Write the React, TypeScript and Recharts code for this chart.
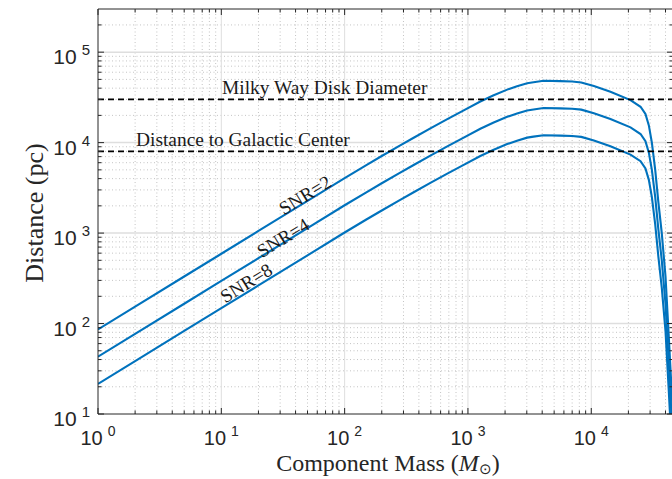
import React from 'react';
import { LineChart, Line, XAxis, YAxis, ReferenceLine, ReferenceDot } from 'recharts';

// component mass (solar masses) and horizon distance (pc)
const massValues = [1, 2, 5, 10, 20, 50, 100, 150, 200, 280, 360, 500, 680, 900, 1260, 1600, 2080, 2500, 3020, 3400, 4100, 5600, 7000, 8300, 10500, 14300, 20800, 25100, 27500, 29300, 31000, 33000, 35000, 37300, 40000, 42400, 45700];
const snr2Distance = [86, 154, 331, 591, 1055, 2270, 4060, 5650, 7110, 9270, 11250, 14450, 18200, 22300, 28450, 33200, 38550, 42000, 45400, 46550, 48300, 47800, 47400, 46300, 42200, 36500, 29500, 24900, 20700, 15500, 10000, 5000, 2200, 1000, 330, 77, 11];
const snr4Distance = [43, 77, 165.5, 295.5, 527.5, 1135, 2030, 2825, 3555, 4635, 5625, 7225, 9100, 11150, 14225, 16600, 19275, 21000, 22700, 23275, 24150, 23900, 23700, 23150, 21100, 18250, 14750, 12450, 10350, 7750, 5000, 2500, 1100, 500, 165, 38.5, 5.5];
const snr8Distance = [21.5, 38.5, 82.8, 147.8, 263.8, 567.5, 1015, 1412, 1778, 2318, 2812, 3612, 4550, 5575, 7112, 8300, 9638, 10500, 11350, 11638, 12075, 11950, 11850, 11575, 10550, 9125, 7375, 6225, 5175, 3875, 2500, 1250, 550, 250, 82.5, 19.3, 2.75];

const xMajorTicks = [1, 10, 100, 1000, 10000];
const xMinorTicks = [2, 3, 4, 5, 6, 7, 8, 9, 20, 30, 40, 50, 60, 70, 80, 90, 200, 300, 400, 500, 600, 700, 800, 900, 2000, 3000, 4000, 5000, 6000, 7000, 8000, 9000, 20000, 30000, 40000];
const yMajorTicks = [10, 100, 1000, 10000, 100000];
const yMinorTicks = [20, 30, 40, 50, 60, 70, 80, 90, 200, 300, 400, 500, 600, 700, 800, 900, 2000, 3000, 4000, 5000, 6000, 7000, 8000, 9000, 20000, 30000, 40000, 50000, 60000, 70000, 80000, 90000, 200000];

const xDomain = [1, 46000];
const yDomain = [10, 300000];

const milkyWayDiameter = 30000;
const galacticCenter = 8000;

const snrLabels = [
  { text: 'SNR=2', mass: 47.7, distance: 2640 },
  { text: 'SNR=4', mass: 31.7, distance: 890 },
  { text: 'SNR=8', mass: 15.9, distance: 281 },
];

const chartData = massValues.map((mass, i) => ({
  mass,
  snr2: snr2Distance[i],
  snr4: snr4Distance[i],
  snr8: snr8Distance[i],
}));

const PLOT_W = 575;
const PLOT_H = 405;
const AXIS_COLOR = '#262626';
const LINE_COLOR = '#0072BD';
const SANS = 'Liberation Sans, Arial, sans-serif';
const SERIF = 'Liberation Serif, Times New Roman, serif';

const XTick = (props: any) => {
  const { x, y, payload } = props;
  const value = payload.value;
  const major = xMajorTicks.includes(value);
  const len = major ? 6 : 3.5;
  return (
    <g>
      <line x1={x} y1={y} x2={x} y2={y - len} stroke={AXIS_COLOR} />
      <line x1={x} y1={y - PLOT_H} x2={x} y2={y - PLOT_H + len} stroke={AXIS_COLOR} />
      {major && (
        <text x={x} y={y + 31} textAnchor="middle" fontFamily={SANS} fontSize={20} fill={AXIS_COLOR}>
          10
          <tspan dx={5} dy={-9} fontSize={14}>
            {Math.round(Math.log10(value))}
          </tspan>
        </text>
      )}
    </g>
  );
};

const YTick = (props: any) => {
  const { x, y, payload } = props;
  const value = payload.value;
  const major = yMajorTicks.includes(value);
  const len = major ? 6 : 3.5;
  return (
    <g>
      <line x1={x} y1={y} x2={x + len} y2={y} stroke={AXIS_COLOR} />
      <line x1={x + PLOT_W} y1={y} x2={x + PLOT_W - len} y2={y} stroke={AXIS_COLOR} />
      {major && (
        <text x={x - 8} y={y + 12} textAnchor="end" fontFamily={SANS} fontSize={21} fill={AXIS_COLOR}>
          10
          <tspan dx={5} dy={-9} fontSize={15}>
            {Math.round(Math.log10(value))}
          </tspan>
        </text>
      )}
    </g>
  );
};

const xLabel = () => (
  <text x={388} y={471} textAnchor="middle" fontFamily={SERIF} fontSize={24} fill={AXIS_COLOR}>
    Component Mass (<tspan fontStyle="italic">M</tspan>
    <tspan fontSize={15} dy={3}>⊙</tspan>
    <tspan dy={-3}>)</tspan>
  </text>
);

const yLabel = () => (
  <text
    x={43}
    y={213}
    transform="rotate(-90 43 213)"
    textAnchor="middle"
    fontFamily={SERIF}
    fontSize={26}
    fill={AXIS_COLOR}
  >
    Distance (pc)
  </text>
);

const lineLabel = (text: string, dx: number) => (props: any) => {
  const vb = props.viewBox;
  return (
    <text x={vb.x + dx} y={vb.y - 5} fontFamily={SERIF} fontSize={19.4} fill="#1a1a1a">
      {text}
    </text>
  );
};

const snrShape = (text: string) => (props: any) => (
  <text
    x={props.cx}
    y={props.cy}
    transform={`rotate(-31.5 ${props.cx} ${props.cy})`}
    textAnchor="middle"
    dominantBaseline="central"
    fontFamily={SERIF}
    fontSize={19}
    fill="#1a1a1a"
  >
    {text}
  </text>
);

export default function App() {
  return (
    <div style={{ position: 'absolute', left: 0, top: 0, width: 672, height: 479, overflow: 'hidden', background: '#fff' }}>
      <LineChart width={676} height={479} data={chartData} margin={{ top: 9, right: 3, bottom: 0, left: 0 }}>
        <XAxis
          dataKey="mass"
          type="number"
          scale="log"
          domain={xDomain}
          allowDataOverflow
          ticks={[...xMajorTicks, ...xMinorTicks]}
          interval={0}
          tickSize={0}
          tickMargin={0}
          tickLine={false}
          axisLine={{ stroke: AXIS_COLOR }}
          height={65}
          tick={<XTick />}
          label={xLabel}
        />
        <YAxis
          type="number"
          scale="log"
          domain={yDomain}
          allowDataOverflow
          ticks={[...yMajorTicks, ...yMinorTicks]}
          interval={0}
          tickSize={0}
          tickMargin={0}
          tickLine={false}
          axisLine={{ stroke: AXIS_COLOR }}
          width={98}
          tick={<YTick />}
          label={yLabel}
        />

        {xMinorTicks.map((v) => (
          <ReferenceLine key={`xm${v}`} x={v} stroke="#c4c4c4" strokeDasharray="1 2.5" zIndex={-50} />
        ))}
        {yMinorTicks.map((v) => (
          <ReferenceLine key={`ym${v}`} y={v} stroke="#c4c4c4" strokeDasharray="1 2.5" zIndex={-50} />
        ))}
        {xMajorTicks.slice(1).map((v) => (
          <ReferenceLine key={`xM${v}`} x={v} stroke="#dedede" zIndex={-40} />
        ))}
        {yMajorTicks.slice(1).map((v) => (
          <ReferenceLine key={`yM${v}`} y={v} stroke="#dedede" strokeWidth={1.5} zIndex={-40} />
        ))}
        <ReferenceLine y={yDomain[1]} stroke={AXIS_COLOR} />

        <Line dataKey="snr2" type="linear" stroke={LINE_COLOR} strokeWidth={2.1} dot={false} isAnimationActive={false} />
        <Line dataKey="snr4" type="linear" stroke={LINE_COLOR} strokeWidth={2.1} dot={false} isAnimationActive={false} />
        <Line dataKey="snr8" type="linear" stroke={LINE_COLOR} strokeWidth={2.1} dot={false} isAnimationActive={false} />

        <ReferenceLine
          y={milkyWayDiameter}
          stroke="#000"
          strokeWidth={1.8}
          strokeDasharray="6 4"
          label={lineLabel('Milky Way Disk Diameter', 124)}
        />
        <ReferenceLine
          y={galacticCenter}
          stroke="#000"
          strokeWidth={1.8}
          strokeDasharray="6 4"
          label={lineLabel('Distance to Galactic Center', 38)}
        />

        {snrLabels.map((l) => (
          <ReferenceDot key={l.text} x={l.mass} y={l.distance} r={0} shape={snrShape(l.text)} />
        ))}
      </LineChart>
    </div>
  );
}
